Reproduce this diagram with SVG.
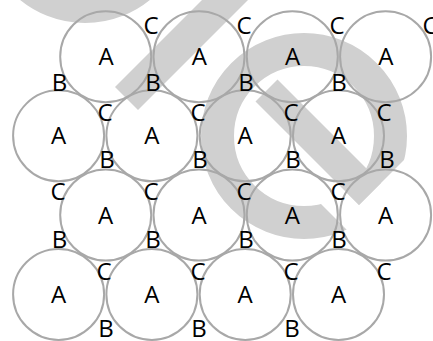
<svg xmlns="http://www.w3.org/2000/svg" width="433" height="341" viewBox="0 0 433 341">
<style>
.wm{fill:none;stroke:#d0d0d0;stroke-width:33}
.wmf{fill:#d0d0d0}
.c{fill:none;stroke:#a8a8a8;stroke-width:2}
.t{font-family:"Open Sans","Noto Sans","DejaVu Sans",sans-serif;font-size:24px;fill:#000;text-anchor:middle}
</style>
<defs>
<mask id="gap" maskUnits="userSpaceOnUse" x="0" y="0" width="433" height="341">
<rect x="0" y="0" width="433" height="341" fill="#fff"/>
<polygon points="283.5,166.5 302,148 359,205 432,132 550,250 458.5,341.5" fill="#000"/>
</mask>
</defs>
<g id="watermark">
<circle class="wm" cx="85" cy="-80" r="86.5"/>
<polygon class="wmf" points="115,87 138,110 265,-17 242,-40"/>
<circle class="wm" cx="304" cy="136" r="86.5" mask="url(#gap)"/>
<polygon class="wmf" points="255.5,101.5 277.5,79.5 381,183 359,205"/>
</g>
<g class="t" font-family="'Open Sans','Noto Sans','DejaVu Sans',sans-serif" font-size="24" text-anchor="middle" fill="#000">
<g id="r1c1"><circle class="c" cx="105.7" cy="56.7" r="45.5"/><text class="t" font-size="24" x="106" y="65.2">A</text></g>
<g id="r1c2"><circle class="c" cx="199" cy="56.7" r="45.5"/><text class="t" font-size="24" x="199.3" y="65.2">A</text></g>
<g id="r1c3"><circle class="c" cx="292.3" cy="56.7" r="45.5"/><text class="t" font-size="24" x="292.6" y="65.2">A</text></g>
<g id="r1c4"><circle class="c" cx="385.6" cy="56.7" r="45.5"/><text class="t" font-size="24" x="385.9" y="65.2">A</text></g>
<g id="r2c1"><circle class="c" cx="58.6" cy="135.8" r="45.5"/><text class="t" font-size="24" x="58.6" y="144.3">A</text></g>
<g id="r2c2"><circle class="c" cx="151.9" cy="135.8" r="45.5"/><text class="t" font-size="24" x="151.9" y="144.3">A</text></g>
<g id="r2c3"><circle class="c" cx="245.2" cy="135.8" r="45.5"/><text class="t" font-size="24" x="245.2" y="144.3">A</text></g>
<g id="r2c4"><circle class="c" cx="338.5" cy="135.8" r="45.5"/><text class="t" font-size="24" x="338.5" y="144.3">A</text></g>
<g id="r3c1"><circle class="c" cx="105.7" cy="215" r="45.5"/><text class="t" font-size="24" x="105.7" y="223.5">A</text></g>
<g id="r3c2"><circle class="c" cx="199" cy="215" r="45.5"/><text class="t" font-size="24" x="199" y="223.5">A</text></g>
<g id="r3c3"><circle class="c" cx="292.3" cy="215" r="45.5"/><text class="t" font-size="24" x="292.3" y="223.5">A</text></g>
<g id="r3c4"><circle class="c" cx="385.6" cy="215" r="45.5"/><text class="t" font-size="24" x="385.6" y="223.5">A</text></g>
<g id="r4c1"><circle class="c" cx="58.6" cy="294.4" r="45.5"/><text class="t" font-size="24" x="58.6" y="302.9">A</text></g>
<g id="r4c2"><circle class="c" cx="151.9" cy="294.4" r="45.5"/><text class="t" font-size="24" x="151.9" y="302.9">A</text></g>
<g id="r4c3"><circle class="c" cx="245.2" cy="294.4" r="45.5"/><text class="t" font-size="24" x="245.2" y="302.9">A</text></g>
<g id="r4c4"><circle class="c" cx="338.5" cy="294.4" r="45.5"/><text class="t" font-size="24" x="338.5" y="302.9">A</text></g>
<g id="labels">
<text class="t" font-size="24" x="151" y="33.5">C</text><text class="t" font-size="24" x="244" y="33.5">C</text><text class="t" font-size="24" x="337" y="33.5">C</text><text class="t" font-size="24" x="430" y="33.5">C</text>
<text class="t" font-size="24" x="59.5" y="91.2">B</text><text class="t" font-size="24" x="153" y="91.2">B</text><text class="t" font-size="24" x="246" y="91.2">B</text><text class="t" font-size="24" x="339" y="91.2">B</text>
<text class="t" font-size="24" x="105" y="120.5">C</text><text class="t" font-size="24" x="198" y="120.5">C</text><text class="t" font-size="24" x="291" y="120.5">C</text><text class="t" font-size="24" x="384" y="120.5">C</text>
<text class="t" font-size="24" x="107" y="167.8">B</text><text class="t" font-size="24" x="200" y="167.8">B</text><text class="t" font-size="24" x="293" y="167.8">B</text><text class="t" font-size="24" x="387" y="167.8">B</text>
<text class="t" font-size="24" x="58" y="200.2">C</text><text class="t" font-size="24" x="151" y="200.2">C</text><text class="t" font-size="24" x="244" y="200.2">C</text><text class="t" font-size="24" x="338" y="200.2">C</text>
<text class="t" font-size="24" x="59.5" y="247.8">B</text><text class="t" font-size="24" x="153" y="247.8">B</text><text class="t" font-size="24" x="246" y="247.8">B</text><text class="t" font-size="24" x="339" y="247.8">B</text>
<text class="t" font-size="24" x="104" y="280.2">C</text><text class="t" font-size="24" x="198" y="280.2">C</text><text class="t" font-size="24" x="291" y="280.2">C</text><text class="t" font-size="24" x="384" y="280.2">C</text>
<text class="t" font-size="24" x="106" y="336.8">B</text><text class="t" font-size="24" x="199" y="336.8">B</text><text class="t" font-size="24" x="292" y="336.8">B</text>
</g>
</g>
</svg>
